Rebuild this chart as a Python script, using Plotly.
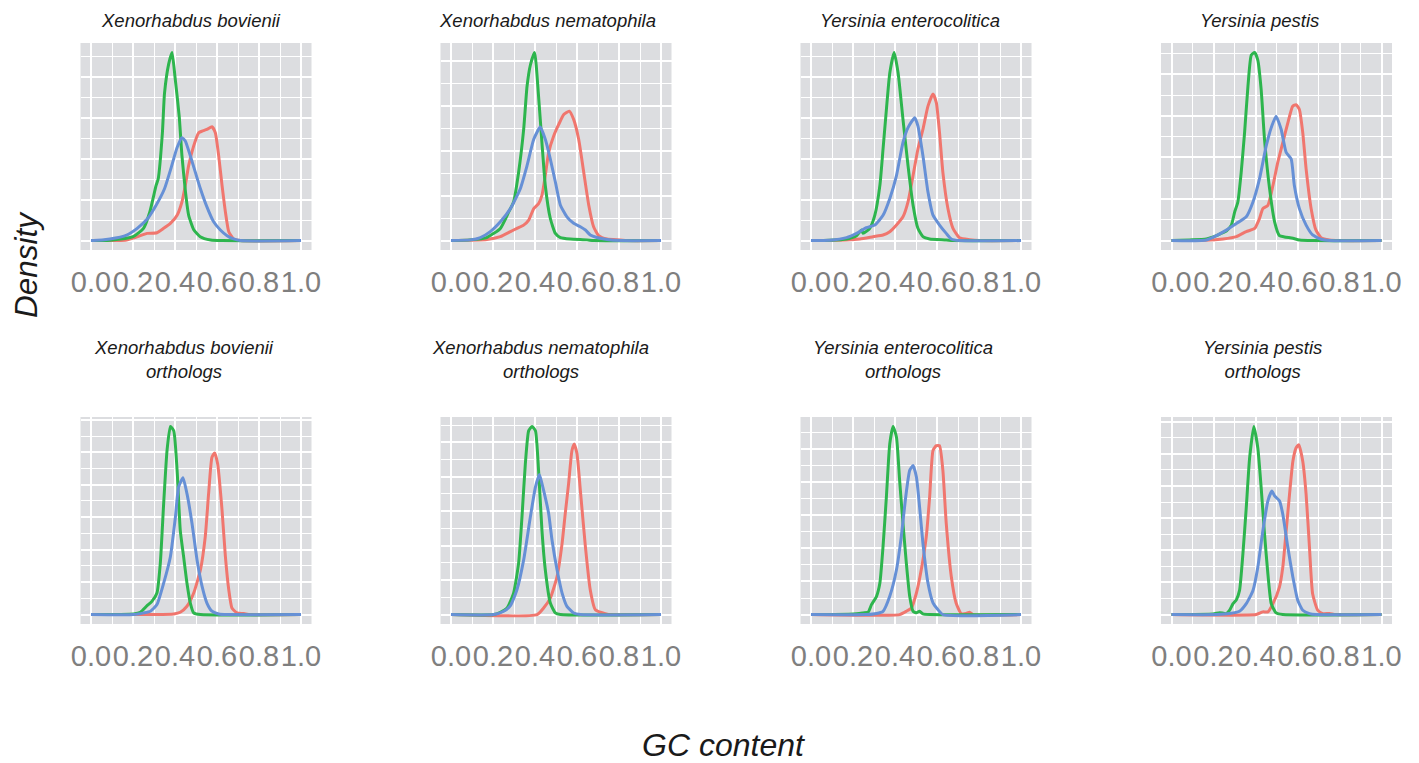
import plotly.graph_objects as go

# ---------------------------------------------------------------------------
# Density of GC content per gene, three codon-position groups per genome.
# Each curve is given as GC content (x) and estimated density (y).
# ---------------------------------------------------------------------------
series_names = ["GC1", "GC2", "GC3"]
series_colors = ["#F0766E", "#2DB54D", "#6690D6"]

panel_titles = [
    "Xenorhabdus bovienii",
    "Xenorhabdus nematophila",
    "Yersinia enterocolitica",
    "Yersinia pestis",
    "Xenorhabdus bovienii<br>orthologs",
    "Xenorhabdus nematophila<br>orthologs",
    "Yersinia enterocolitica<br>orthologs",
    "Yersinia pestis<br>orthologs",
]

tick_values = [0.0, 0.2, 0.4, 0.6, 0.8, 1.0]
tick_labels = ["0.0", "0.2", "0.4", "0.6", "0.8", "1.0"]

# --- Xenorhabdus bovienii (all genes) ---
bov_gc1_x = [0.0, 0.17, 0.235, 0.267, 0.314, 0.346, 0.378, 0.41, 0.433, 0.449, 0.465, 0.489, 0.513, 0.529, 0.552, 0.576, 0.592, 0.608, 0.624, 0.64, 0.656, 0.679, 0.711, 1.0]
bov_gc1_y = [0.0, 0.04, 0.30, 0.44, 0.48, 0.75, 1.05, 1.55, 2.36, 3.37, 4.58, 5.79, 6.59, 6.69, 6.79, 6.96, 6.59, 5.18, 3.37, 1.75, 0.54, 0.10, 0.0, 0.0]
bov_gc2_x = [0.0, 0.09, 0.20, 0.25, 0.28, 0.31, 0.32, 0.34, 0.35, 0.37, 0.386, 0.40, 0.42, 0.433, 0.45, 0.465, 0.49, 0.52, 0.57, 0.62, 1.0]
bov_gc2_y = [0.0, 0.02, 0.24, 0.75, 1.75, 3.37, 3.77, 6.59, 9.0, 10.8, 11.5, 10.0, 7.6, 5.2, 2.96, 1.55, 0.65, 0.24, 0.04, 0.0, 0.0]
bov_gc3_x = [0.0, 0.01, 0.09, 0.17, 0.22, 0.27, 0.31, 0.35, 0.38, 0.41, 0.433, 0.449, 0.473, 0.497, 0.521, 0.552, 0.584, 0.616, 0.648, 0.679, 0.711, 1.0]
bov_gc3_y = [0.0, 0.0, 0.10, 0.34, 0.75, 1.35, 2.16, 3.17, 4.38, 5.69, 6.29, 6.09, 5.18, 4.17, 3.17, 2.06, 1.15, 0.65, 0.30, 0.10, 0.0, 0.0]

# --- Xenorhabdus nematophila (all genes) ---
nem_gc1_x = [0.0, 0.171, 0.235, 0.283, 0.314, 0.346, 0.370, 0.394, 0.417, 0.433, 0.449, 0.465, 0.489, 0.513, 0.537, 0.563, 0.584, 0.608, 0.632, 0.656, 0.679, 0.703, 0.743, 0.806, 0.838, 1.0]
nem_gc1_y = [0.0, 0.06, 0.22, 0.50, 0.68, 0.86, 1.14, 1.78, 2.06, 2.52, 3.62, 4.91, 5.83, 6.47, 7.02, 7.21, 6.75, 5.64, 3.81, 1.97, 0.77, 0.28, 0.09, 0.04, 0.0, 0.0]
nem_gc2_x = [0.0, 0.09, 0.17, 0.235, 0.275, 0.298, 0.322, 0.346, 0.362, 0.378, 0.398, 0.417, 0.433, 0.449, 0.473, 0.497, 0.521, 0.568, 0.648, 0.679, 1.0]
nem_gc2_y = [0.0, 0.04, 0.17, 0.68, 1.60, 2.15, 3.81, 6.19, 8.58, 9.78, 10.48, 8.03, 5.46, 3.07, 1.23, 0.40, 0.17, 0.09, 0.04, 0.0, 0.0]
nem_gc3_x = [0.0, 0.092, 0.14, 0.187, 0.235, 0.283, 0.330, 0.362, 0.394, 0.425, 0.449, 0.473, 0.497, 0.521, 0.552, 0.584, 0.616, 0.64, 0.663, 0.695, 0.743, 0.806, 1.0]
nem_gc3_y = [0.0, 0.04, 0.17, 0.50, 1.05, 1.78, 2.89, 4.17, 5.64, 6.32, 5.64, 4.54, 3.26, 1.97, 1.32, 0.96, 0.77, 0.59, 0.31, 0.17, 0.06, 0.0, 0.0]

# --- Yersinia enterocolitica (all genes) ---
ent_gc1_x = [0.0, 0.169, 0.233, 0.296, 0.343, 0.375, 0.407, 0.438, 0.462, 0.486, 0.509, 0.533, 0.557, 0.581, 0.597, 0.612, 0.628, 0.652, 0.676, 0.707, 0.755, 0.802, 1.0]
ent_gc1_y = [0.0, 0.04, 0.10, 0.24, 0.34, 0.54, 0.95, 1.45, 2.36, 3.97, 5.58, 6.79, 8.21, 8.95, 8.41, 6.59, 4.17, 1.96, 0.75, 0.18, 0.06, 0.0, 0.0]
ent_gc2_x = [0.0, 0.09, 0.169, 0.217, 0.241, 0.248, 0.280, 0.304, 0.328, 0.343, 0.359, 0.375, 0.396, 0.415, 0.438, 0.462, 0.486, 0.509, 0.533, 0.565, 0.644, 0.676, 1.0]
ent_gc2_y = [0.0, 0.02, 0.10, 0.30, 0.65, 0.44, 0.75, 1.55, 3.37, 5.58, 8.0, 10.22, 11.49, 10.22, 7.40, 4.58, 2.16, 0.75, 0.24, 0.10, 0.04, 0.0, 0.0]
ent_gc3_x = [0.0, 0.09, 0.169, 0.217, 0.264, 0.304, 0.343, 0.375, 0.407, 0.438, 0.462, 0.494, 0.509, 0.533, 0.557, 0.581, 0.612, 0.644, 0.668, 0.707, 1.0]
ent_gc3_y = [0.0, 0.02, 0.18, 0.44, 0.79, 0.95, 1.55, 2.56, 3.97, 5.99, 6.90, 7.50, 7.0, 5.18, 2.96, 1.55, 0.95, 0.44, 0.10, 0.0, 0.0]

# --- Yersinia pestis (all genes) ---
pes_gc1_x = [0.0, 0.166, 0.245, 0.309, 0.356, 0.396, 0.419, 0.435, 0.459, 0.483, 0.506, 0.530, 0.554, 0.577, 0.593, 0.609, 0.625, 0.641, 0.665, 0.688, 0.712, 0.752, 0.799, 1.0]
pes_gc1_y = [0.0, 0.02, 0.10, 0.24, 0.54, 0.73, 1.33, 1.92, 2.12, 3.31, 4.70, 5.89, 7.08, 8.08, 8.17, 7.88, 6.49, 4.31, 1.92, 0.63, 0.18, 0.04, 0.0, 0.0]
pes_gc2_x = [0.0, 0.087, 0.166, 0.214, 0.237, 0.261, 0.285, 0.301, 0.316, 0.332, 0.348, 0.364, 0.380, 0.396, 0.411, 0.427, 0.443, 0.467, 0.491, 0.514, 0.538, 0.578, 0.609, 0.672, 1.0]
pes_gc2_y = [0.0, 0.04, 0.10, 0.30, 0.44, 0.58, 0.93, 1.73, 2.32, 4.11, 6.49, 9.27, 11.15, 11.31, 10.85, 9.07, 6.07, 3.12, 1.13, 0.30, 0.22, 0.14, 0.04, 0.0, 0.0]
pes_gc3_x = [0.0, 0.166, 0.214, 0.261, 0.309, 0.356, 0.388, 0.419, 0.451, 0.475, 0.498, 0.522, 0.546, 0.570, 0.585, 0.609, 0.641, 0.672, 0.712, 0.752, 1.0]
pes_gc3_y = [0.0, 0.04, 0.30, 0.63, 1.03, 1.43, 2.32, 3.71, 5.69, 6.79, 7.48, 6.69, 5.30, 4.90, 3.31, 1.92, 0.93, 0.34, 0.08, 0.0, 0.0]

# --- Xenorhabdus bovienii orthologs ---
bovo_gc1_x = [0.0, 0.394, 0.425, 0.457, 0.489, 0.521, 0.544, 0.560, 0.576, 0.589, 0.603, 0.624, 0.640, 0.656, 0.671, 0.695, 0.727, 0.759, 1.0]
bovo_gc1_y = [0.0, 0.05, 0.18, 0.64, 1.66, 3.44, 5.99, 9.31, 12.12, 12.45, 11.61, 8.04, 4.46, 1.91, 0.51, 0.13, 0.08, 0.0, 0.0]
bovo_gc2_x = [0.0, 0.203, 0.235, 0.267, 0.290, 0.314, 0.330, 0.346, 0.362, 0.378, 0.394, 0.410, 0.425, 0.441, 0.457, 0.473, 0.489, 0.521, 1.0]
bovo_gc2_y = [0.0, 0.05, 0.18, 0.69, 1.02, 1.66, 3.95, 8.55, 12.63, 14.49, 14.16, 11.10, 6.51, 4.46, 2.42, 0.89, 0.13, 0.0, 0.0]
bovo_gc3_x = [0.0, 0.203, 0.251, 0.283, 0.314, 0.346, 0.378, 0.402, 0.417, 0.438, 0.457, 0.481, 0.505, 0.529, 0.552, 0.576, 0.608, 0.648, 1.0]
bovo_gc3_y = [0.0, 0.0, 0.13, 0.26, 0.77, 2.42, 4.46, 7.53, 9.82, 10.54, 9.31, 7.02, 4.21, 2.17, 0.89, 0.26, 0.05, 0.0, 0.0]

# --- Xenorhabdus nematophila orthologs ---
nemo_gc1_x = [0.0, 0.410, 0.441, 0.473, 0.505, 0.529, 0.544, 0.560, 0.576, 0.587, 0.600, 0.616, 0.640, 0.663, 0.687, 0.711, 0.735, 0.759, 1.0]
nemo_gc1_y = [0.0, 0.0, 0.48, 1.20, 2.76, 5.17, 7.33, 9.50, 11.90, 12.38, 11.66, 9.01, 4.93, 1.80, 0.36, 0.17, 0.07, 0.0, 0.0]
nemo_gc2_x = [0.0, 0.203, 0.235, 0.267, 0.298, 0.322, 0.338, 0.354, 0.370, 0.386, 0.402, 0.417, 0.433, 0.449, 0.473, 0.497, 0.521, 1.0]
nemo_gc2_y = [0.0, 0.0, 0.17, 0.48, 1.56, 3.73, 7.09, 10.94, 13.34, 13.65, 13.34, 10.46, 6.13, 3.25, 0.84, 0.12, 0.0, 0.0]
nemo_gc3_x = [0.0, 0.203, 0.251, 0.283, 0.314, 0.346, 0.378, 0.402, 0.421, 0.441, 0.465, 0.481, 0.505, 0.529, 0.552, 0.584, 0.616, 1.0]
nemo_gc3_y = [0.0, 0.0, 0.24, 0.65, 1.80, 3.97, 7.09, 9.25, 10.17, 9.01, 7.33, 5.41, 3.25, 1.56, 0.60, 0.12, 0.0, 0.0]

# --- Yersinia enterocolitica orthologs ---
ento_gc1_x = [0.0, 0.422, 0.454, 0.478, 0.502, 0.525, 0.549, 0.565, 0.581, 0.597, 0.612, 0.628, 0.644, 0.668, 0.691, 0.715, 0.739, 0.755, 0.771, 1.0]
ento_gc1_y = [0.0, 0.0, 0.25, 0.5, 1.63, 3.38, 5.88, 8.88, 12.38, 12.75, 12.75, 10.88, 6.88, 2.88, 0.88, 0.08, 0.08, 0.18, 0.0, 0.0]
ento_gc2_x = [0.0, 0.201, 0.248, 0.272, 0.288, 0.312, 0.328, 0.343, 0.359, 0.375, 0.391, 0.407, 0.422, 0.438, 0.454, 0.470, 0.486, 0.502, 0.517, 0.533, 0.565, 1.0]
ento_gc2_y = [0.0, 0.05, 0.13, 0.18, 0.75, 1.38, 2.38, 5.13, 8.88, 12.88, 14.2, 13.38, 10.13, 6.88, 3.88, 1.38, 0.25, 0.13, 0.25, 0.05, 0.0, 0.0]
ento_gc3_x = [0.0, 0.264, 0.312, 0.343, 0.375, 0.407, 0.430, 0.451, 0.470, 0.486, 0.502, 0.517, 0.533, 0.557, 0.581, 0.604, 0.628, 1.0]
ento_gc3_y = [0.0, 0.0, 0.08, 0.25, 1.38, 3.38, 5.88, 8.88, 10.88, 11.25, 10.38, 8.13, 5.38, 2.38, 0.88, 0.38, 0.0, 0.0]

# --- Yersinia pestis orthologs ---
peso_gc1_x = [0.0, 0.403, 0.435, 0.459, 0.483, 0.514, 0.530, 0.546, 0.562, 0.578, 0.593, 0.606, 0.625, 0.641, 0.657, 0.672, 0.696, 0.720, 0.752, 0.783, 1.0]
peso_gc1_y = [0.0, 0.0, 0.21, 0.21, 0.85, 2.14, 3.69, 6.52, 9.36, 11.93, 12.96, 13.22, 11.93, 9.36, 5.23, 1.62, 0.34, 0.08, 0.08, 0.0, 0.0]
peso_gc2_x = [0.0, 0.198, 0.229, 0.261, 0.277, 0.293, 0.309, 0.324, 0.340, 0.356, 0.372, 0.392, 0.411, 0.427, 0.443, 0.459, 0.475, 0.498, 0.530, 1.0]
peso_gc2_y = [0.0, 0.05, 0.15, 0.08, 0.34, 0.85, 1.16, 1.88, 4.72, 8.32, 12.19, 14.64, 12.96, 9.87, 6.26, 3.17, 0.85, 0.13, 0.0, 0.0]
peso_gc3_x = [0.0, 0.214, 0.277, 0.324, 0.356, 0.388, 0.411, 0.435, 0.459, 0.478, 0.491, 0.514, 0.530, 0.554, 0.578, 0.601, 0.625, 0.657, 0.688, 1.0]
peso_gc3_y = [0.0, 0.0, 0.08, 0.26, 0.85, 1.88, 3.69, 6.52, 8.85, 9.61, 9.23, 8.85, 7.81, 5.23, 2.91, 1.11, 0.34, 0.08, 0.0, 0.0]

panels = [
    [(bov_gc1_x, bov_gc1_y), (bov_gc2_x, bov_gc2_y), (bov_gc3_x, bov_gc3_y)],
    [(nem_gc1_x, nem_gc1_y), (nem_gc2_x, nem_gc2_y), (nem_gc3_x, nem_gc3_y)],
    [(ent_gc1_x, ent_gc1_y), (ent_gc2_x, ent_gc2_y), (ent_gc3_x, ent_gc3_y)],
    [(pes_gc1_x, pes_gc1_y), (pes_gc2_x, pes_gc2_y), (pes_gc3_x, pes_gc3_y)],
    [(bovo_gc1_x, bovo_gc1_y), (bovo_gc2_x, bovo_gc2_y), (bovo_gc3_x, bovo_gc3_y)],
    [(nemo_gc1_x, nemo_gc1_y), (nemo_gc2_x, nemo_gc2_y), (nemo_gc3_x, nemo_gc3_y)],
    [(ento_gc1_x, ento_gc1_y), (ento_gc2_x, ento_gc2_y), (ento_gc3_x, ento_gc3_y)],
    [(peso_gc1_x, peso_gc1_y), (peso_gc2_x, peso_gc2_y), (peso_gc3_x, peso_gc3_y)],
]

# ---------------------------------------------------------------------------
# Page geometry (pixels)
# ---------------------------------------------------------------------------
W, H = 1419, 763
col_left = [80.5, 440.5, 800.5, 1161.0]
panel_w = 231
row_top = [43, 417]
panel_h = 207
title_cx = [191, 547, 910, 1259, 184, 540, 903, 1262]
title_cy = [20, 359]

PANEL_BG = "#DCDDE0"
TICK_GREY = "#7F7F7F"
TEXT_DARK = "#1A1A1A"
FONT = "Liberation Sans, Arial, sans-serif"

fig = go.Figure()
layout = dict(
    template="none",
    width=W, height=H,
    autosize=False,
    margin=dict(l=0, r=0, t=0, b=0, pad=0, autoexpand=False),
    paper_bgcolor="white",
    plot_bgcolor=PANEL_BG,
    showlegend=False,
    annotations=[],
)

for i, curves in enumerate(panels):
    r, c = divmod(i, 4)
    n = i + 1
    xa = "xaxis" if n == 1 else f"xaxis{n}"
    ya = "yaxis" if n == 1 else f"yaxis{n}"
    xref = "x" if n == 1 else f"x{n}"
    yref = "y" if n == 1 else f"y{n}"

    for (gx, gy), name, color in zip(curves, series_names, series_colors):
        fig.add_trace(go.Scatter(
            x=gx, y=gy, mode="lines", name=name,
            line=dict(color=color, width=3.0, shape="spline", smoothing=0.5),
            xaxis=xref, yaxis=yref, hoverinfo="skip",
        ))

    ymax = max(max(gy) for _, gy in curves)
    x0 = col_left[c] / W
    x1 = (col_left[c] + panel_w) / W
    y1 = 1 - row_top[r] / H
    y0 = 1 - (row_top[r] + panel_h) / H

    layout[xa] = dict(
        domain=[x0, x1], anchor=yref, range=[-0.05, 1.05],
        automargin=False,
        tickmode="array", tickvals=tick_values, ticktext=tick_labels,
        tickangle=0, ticks="", showline=False, zeroline=False,
        showgrid=True, gridcolor="white", gridwidth=1.7,
        minor=dict(tickmode="array", tickvals=[0.1, 0.3, 0.5, 0.7, 0.9],
                   showgrid=True, gridcolor="white", gridwidth=1.0),
        tickfont=dict(family=FONT, size=29, color=TICK_GREY),
        ticklabelstandoff=12,
        fixedrange=True,
    )
    layout[ya] = dict(
        domain=[y0, y1], anchor=xref, range=[-0.05 * ymax, 1.05 * ymax],
        automargin=False,
        tickmode="linear", tick0=0, dtick=2.5,
        showticklabels=False, ticks="", showline=False, zeroline=False,
        showgrid=True, gridcolor="white", gridwidth=1.7,
        minor=dict(tickmode="linear", tick0=0, dtick=1.25,
                   showgrid=True, gridcolor="white", gridwidth=1.0),
        fixedrange=True,
    )

    layout["annotations"].append(dict(
        text=panel_titles[i], x=title_cx[i] / W, y=1 - title_cy[r] / H,
        xref="paper", yref="paper", xanchor="center", yanchor="middle",
        showarrow=False, align="center",
        font=dict(family=FONT, size=18.5, color=TEXT_DARK, style="italic"),
    ))

# Shared axis titles
layout["annotations"].append(dict(
    text="Density", x=26 / W, y=1 - 265 / H, xref="paper", yref="paper",
    xanchor="center", yanchor="middle", showarrow=False, textangle=-90,
    font=dict(family=FONT, size=31.5, color=TEXT_DARK, style="italic"),
))
layout["annotations"].append(dict(
    text="GC content", x=723 / W, y=1 - 745 / H, xref="paper", yref="paper",
    xanchor="center", yanchor="middle", showarrow=False,
    font=dict(family=FONT, size=32, color=TEXT_DARK, style="italic"),
))

fig.update_layout(**layout)
fig.write_html("out.html")
